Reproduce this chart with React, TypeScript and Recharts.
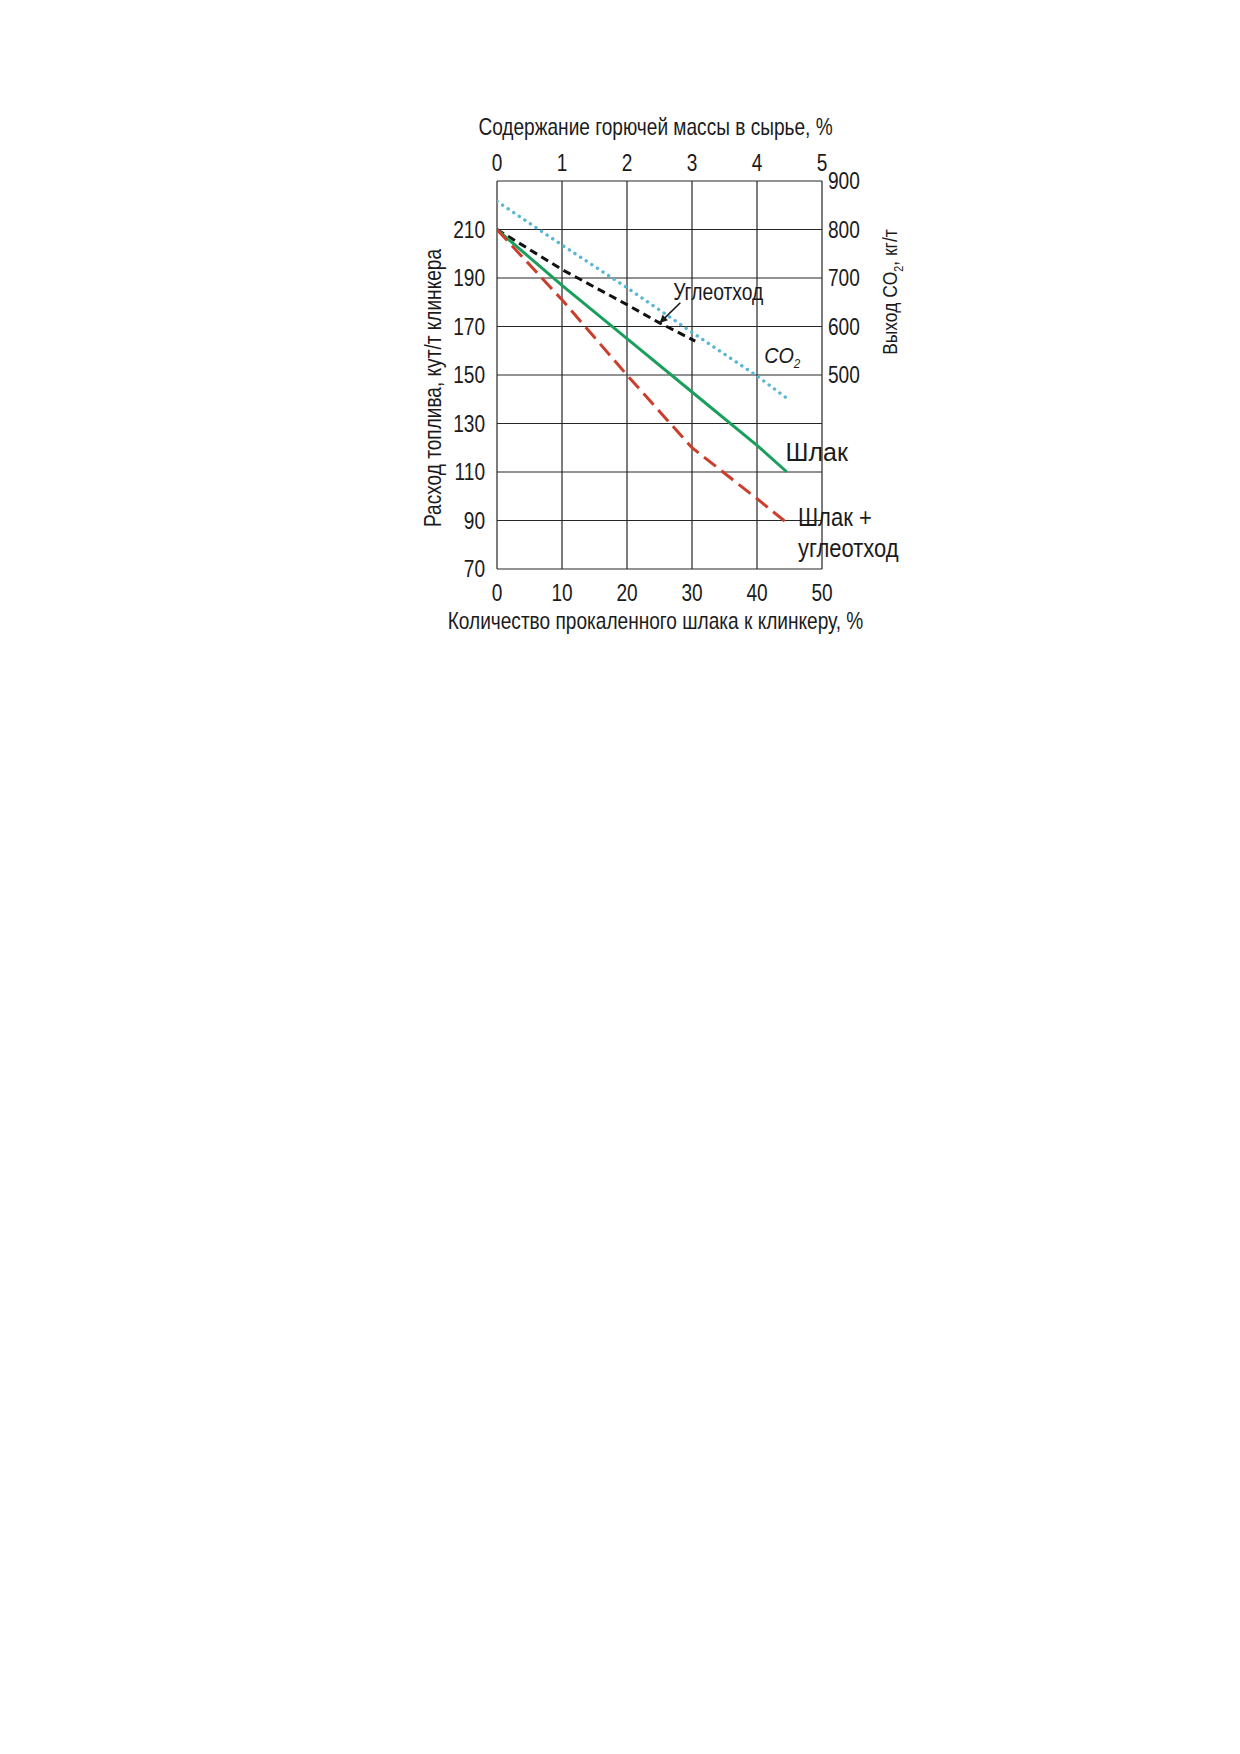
import { CartesianGrid, Label, Line, LineChart, ReferenceDot, ReferenceLine, XAxis, YAxis } from "recharts";

// bottom axis: calcined slag to clinker, %
const slagX = [0, 10, 20, 30, 40, 44.6];
const slagFuel = [210, 187, 165, 143, 121, 110];

const mixX = [0, 10, 20, 30, 40, 44.6];
const mixFuel = [210, 181, 150, 120, 99, 89];

const coalX = [0, 10, 20, 25, 30.5];
const coalFuel = [210, 193.5, 179, 171.5, 164];

// CO2 output, kg/t (right axis)
const co2X = [0, 10, 20, 30, 40, 44.6];
const co2Out = [858, 768, 680, 588, 498, 452];

const bottomTicks = [0, 10, 20, 30, 40, 50];
const topTicks = [0, 1, 2, 3, 4, 5];
const leftTicks = [70, 90, 110, 130, 150, 170, 190, 210];
const gridY = [70, 90, 110, 130, 150, 170, 190, 210, 230];
const rightTicks = [500, 600, 700, 800, 900];

const toRows = (xs: number[], ys: number[]) => xs.map((x, i) => ({ x, y: ys[i] }));

const FONT = "'Liberation Sans', Arial, sans-serif";
const INK = "#1b1b1b";
const SQUEEZE = 0.83;

const notes = [
  { x: 27.1, y: 184.5, text: "Углеотход", size: 23, sx: 0.84 },
  { x: 44.4, y: 118, text: "Шлак", size: 25, sx: 1 },
  { x: 46.3, y: 91.5, text: "Шлак +", size: 25, sx: 0.88 },
  { x: 46.3, y: 78.8, text: "углеотход", size: 25, sx: 0.88 },
];

function NText({ x, y, size = 23, sx = SQUEEZE, anchor = "start", rotate = 0, dy = "0.355em", italic = false, children }: any) {
  return (
    <text
      transform={`translate(${x},${y}) rotate(${rotate}) scale(${sx},1)`}
      textAnchor={anchor}
      dy={dy}
      fontSize={size}
      fontStyle={italic ? "italic" : "normal"}
      fill={INK}
      fontFamily={FONT}
    >
      {children}
    </text>
  );
}

function Tick(props: any) {
  const { x, y, payload, textAnchor, verticalAnchor } = props;
  const dy = verticalAnchor === "start" ? "0.71em" : verticalAnchor === "end" ? "0" : "0.355em";
  return (
    <NText x={x} y={y} anchor={textAnchor} dy={dy}>
      {payload.value}
    </NText>
  );
}

function Arrow(props: any) {
  const { x1, y1, x2, y2 } = props;
  const a = Math.atan2(y2 - y1, x2 - x1);
  const L = 9;
  const w = 0.45;
  const p1 = `${x2 - L * Math.cos(a - w)},${y2 - L * Math.sin(a - w)}`;
  const p2 = `${x2 - L * Math.cos(a + w)},${y2 - L * Math.sin(a + w)}`;
  return (
    <g>
      <line x1={x1} y1={y1} x2={x2} y2={y2} stroke={INK} strokeWidth={1.6} />
      <polygon points={`${x2},${y2} ${p1} ${p2}`} fill={INK} />
    </g>
  );
}

export default function App() {
  return (
    <div style={{ position: "absolute", left: 0, top: 0, width: 1240, height: 700, background: "#fff" }}>
      <LineChart width={1240} height={700} margin={{ top: 151, left: 437, right: 358, bottom: 101 }}>
        <CartesianGrid
          yAxisId="left"
          stroke="#262626"
          strokeWidth={1.2}
          horizontalValues={gridY}
          verticalValues={bottomTicks}
        />
        <XAxis
          dataKey="x"
          type="number"
          domain={[0, 50]}
          ticks={bottomTicks}
          height={30}
          axisLine={false}
          tickLine={false}
          tickSize={0}
          tickMargin={16}
          tick={<Tick />}
          allowDataOverflow
        >
          <Label
            content={({ viewBox }: any) => (
              <NText x={viewBox.x + viewBox.width / 2 - 4} y={viewBox.y + viewBox.height + 30} anchor="middle" dy="0">
                Количество прокаленного шлака к клинкеру, %
              </NText>
            )}
          />
        </XAxis>
        <XAxis
          xAxisId="top"
          dataKey="x"
          orientation="top"
          type="number"
          domain={[0, 5]}
          ticks={topTicks}
          height={30}
          axisLine={false}
          tickLine={false}
          tickSize={0}
          tickMargin={10}
          tick={<Tick />}
          allowDataOverflow
        >
          <Label
            content={({ viewBox }: any) => (
              <NText x={viewBox.x + viewBox.width / 2 - 4} y={viewBox.y - 16} anchor="middle" dy="0">
                Содержание горючей массы в сырье, %
              </NText>
            )}
          />
        </XAxis>
        <YAxis
          yAxisId="left"
          type="number"
          domain={[70, 230]}
          ticks={leftTicks}
          width={60}
          axisLine={false}
          tickLine={false}
          tickSize={0}
          tickMargin={12}
          tick={<Tick />}
          allowDataOverflow
        >
          <Label
            content={({ viewBox }: any) => (
              <NText x={viewBox.x - 4} y={viewBox.y + viewBox.height / 2 + 13} anchor="middle" rotate={-90} sx={0.83}>
                Расход топлива, кут/т клинкера
              </NText>
            )}
          />
        </YAxis>
        <YAxis
          yAxisId="right"
          orientation="right"
          type="number"
          domain={[100, 900]}
          ticks={rightTicks}
          width={60}
          axisLine={false}
          tickLine={false}
          tickSize={0}
          tickMargin={6}
          tick={<Tick />}
          allowDataOverflow
        >
          <Label
            content={({ viewBox }: any) => (
              <NText x={viewBox.x + 68} y={viewBox.y + 111} anchor="middle" rotate={-90} size={21}>
                Выход CO
                <tspan fontSize={13} dy={6}>2</tspan>
                <tspan dy={-6}>, кг/т</tspan>
              </NText>
            )}
          />
        </YAxis>

        {/* invisible carrier so the upper axis gets its scale */}
        <Line
          data={topTicks.map((x) => ({ x }))}
          xAxisId="top"
          yAxisId="left"
          dataKey="y"
          stroke="none"
          dot={false}
          legendType="none"
          isAnimationActive={false}
        />

        <Line
          data={toRows(co2X, co2Out)}
          dataKey="y"
          yAxisId="right"
          type="linear"
          stroke="#5bb6d3"
          strokeWidth={3.4}
          strokeDasharray="0.1 6.6"
          strokeLinecap="round"
          dot={false}
          isAnimationActive={false}
        />
        <Line
          data={toRows(coalX, coalFuel)}
          dataKey="y"
          yAxisId="left"
          type="linear"
          stroke="#111"
          strokeWidth={3}
          strokeDasharray="8 5"
          dot={false}
          isAnimationActive={false}
        />
        <Line
          data={toRows(slagX, slagFuel)}
          dataKey="y"
          yAxisId="left"
          type="linear"
          stroke="#1a9f5b"
          strokeWidth={3}
          dot={false}
          isAnimationActive={false}
        />
        <Line
          data={toRows(mixX, mixFuel)}
          dataKey="y"
          yAxisId="left"
          type="linear"
          stroke="#cc3d2b"
          strokeWidth={3}
          strokeDasharray="15 7"
          dot={false}
          isAnimationActive={false}
        />

        <ReferenceLine
          yAxisId="left"
          segment={[
            { x: 28.2, y: 179.8 },
            { x: 25.0, y: 171.4 },
          ]}
          shape={Arrow}
          ifOverflow="visible"
        />

        {notes.map((n) => (
          <ReferenceDot
            key={n.text + n.y}
            yAxisId="left"
            x={n.x}
            y={n.y}
            r={0}
            fill="none"
            stroke="none"
            ifOverflow="visible"
          >
            <Label
              content={({ viewBox }: any) => (
                <NText x={viewBox.x} y={viewBox.y} size={n.size} sx={n.sx}>
                  {n.text}
                </NText>
              )}
            />
          </ReferenceDot>
        ))}
        <ReferenceDot yAxisId="left" x={41.1} y={158} r={0} fill="none" stroke="none" ifOverflow="visible">
          <Label
            content={({ viewBox }: any) => (
              <NText x={viewBox.x} y={viewBox.y} size={22} sx={0.9} italic>
                CO
                <tspan fontSize={13} dy={5}>2</tspan>
              </NText>
            )}
          />
        </ReferenceDot>
      </LineChart>
    </div>
  );
}
